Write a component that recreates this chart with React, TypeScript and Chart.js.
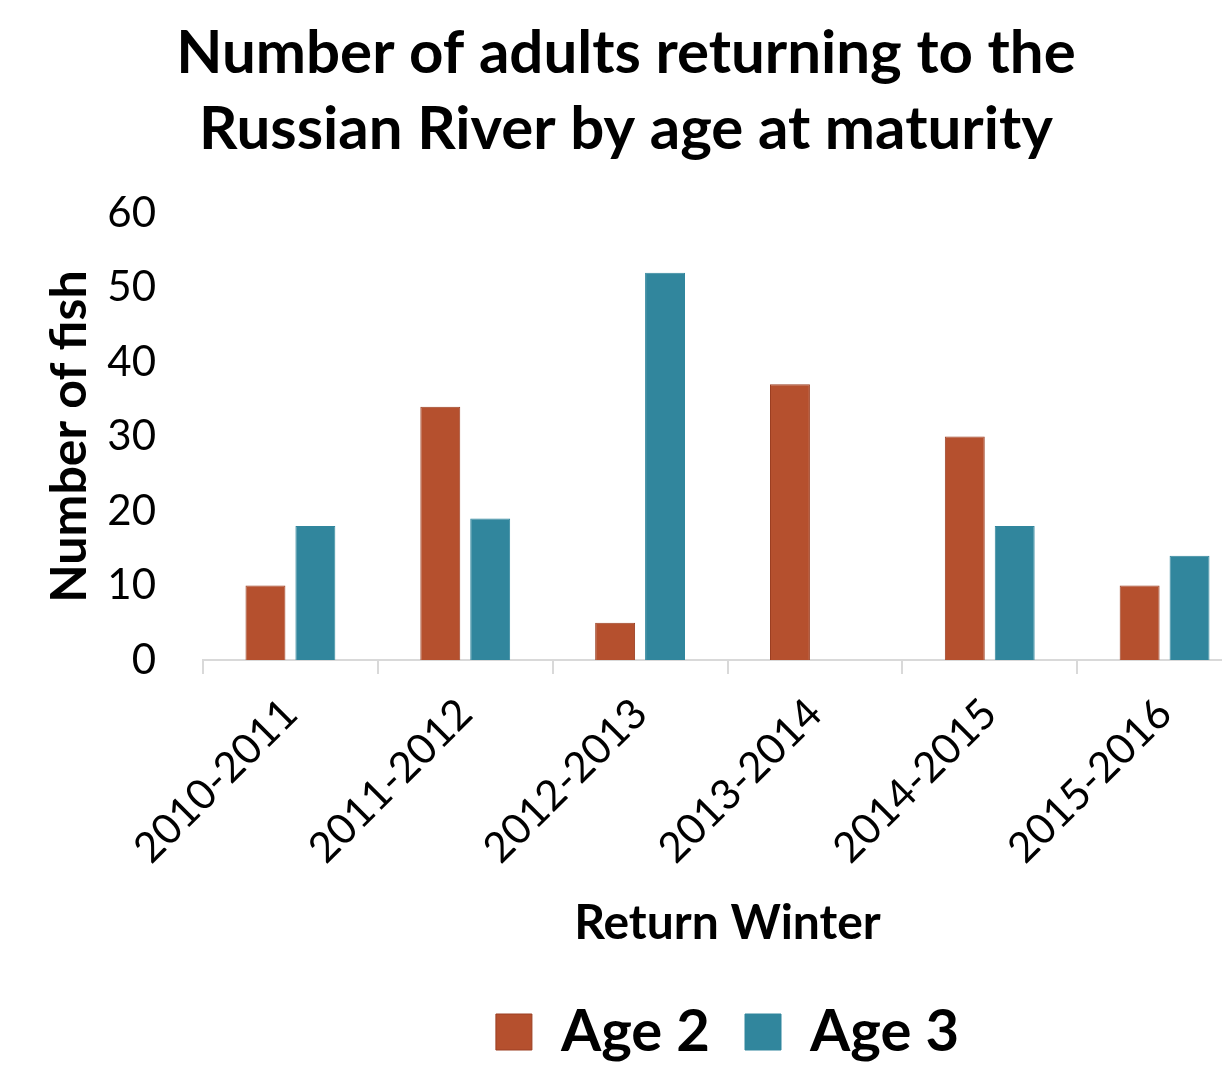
import React, { useEffect, useRef } from "react";
import { Chart, registerables } from "chart.js";

Chart.register(...registerables);

const categories = ["2010-2011", "2011-2012", "2012-2013", "2013-2014", "2014-2015", "2015-2016"];
const age2 = [10, 34, 5, 37, 30, 10];
const age3 = [18, 19, 52, 0, 18, 14];
const titleLines = ["Number of adults returning to the", "Russian River by age at maturity"];

const FONT = "Lato";
const CW = 1282;
const CH = 1074;

export default function App() {
  const ref = useRef<HTMLCanvasElement | null>(null);
  useEffect(() => {
    if (!ref.current) return;
    const chart = new Chart(ref.current, {
      type: "bar",
      data: {
        labels: categories,
        datasets: [
          {
            label: "Age 2",
            data: age2,
            backgroundColor: "#B5502E",
            borderColor: "#9C3F22",
            borderWidth: 1,
            categoryPercentage: 0.571,
            barPercentage: 0.8,
          },
          {
            label: "Age 3",
            data: age3,
            backgroundColor: "#31869D",
            borderColor: "#31869D",
            borderWidth: 1,
            categoryPercentage: 0.571,
            barPercentage: 0.8,
          },
        ],
      },
      options: {
        responsive: false,
        animation: false,
        layout: { padding: { top: 0, left: 0, right: 30, bottom: 3 } },
        plugins: {
          tooltip: { enabled: false },
          title: {
            display: true,
            text: titleLines,
            color: "#000",
            font: { family: FONT, size: 60, weight: "bold", lineHeight: 1.267 },
            padding: { top: 16, bottom: 45 },
          },
          legend: {
            display: true,
            position: "bottom",
            fullSize: false,
            labels: {
              color: "#000",
              font: { family: FONT, size: 58, weight: "bold" },
              boxWidth: 36,
              boxHeight: 36,
              padding: 35,
            },
          },
        },
        scales: {
          x: {
            afterFit: (s: any) => {
              s.height = 308;
            },
            grid: {
              display: true,
              offset: true,
              drawOnChartArea: false,
              drawTicks: true,
              tickLength: 14,
              color: "#D9D9D9",
              lineWidth: 2,
            },
            border: { display: true, color: "#D9D9D9", width: 2 },
            ticks: {
              color: "#000",
              font: { family: FONT, size: 42 },
              maxRotation: 45,
              minRotation: 45,
              padding: 15,
            },
            title: {
              display: true,
              text: "Return Winter",
              color: "#000",
              font: { family: FONT, size: 48, weight: "bold" },
              padding: { top: 0, bottom: 16 },
            },
          },
          y: {
            min: 0,
            max: 60,
            afterFit: (s: any) => {
              s.width = 203;
            },
            grid: { display: false, drawTicks: false },
            border: { display: false },
            ticks: {
              stepSize: 10,
              color: "#000",
              font: { family: FONT, size: 42 },
              padding: 47,
            },
            title: {
              display: true,
              text: "Number of fish",
              color: "#000",
              font: { family: FONT, size: 50, weight: "bold" },
              padding: { top: 40, bottom: 0 },
            },
          },
        },
      },
    });
    return () => chart.destroy();
  }, []);
  return (
    <div style={{ position: "absolute", top: 0, left: 0, width: 1222, height: 1074, overflow: "hidden", background: "#fff" }}>
      <canvas ref={ref} width={CW} height={CH} style={{ width: CW, height: CH, display: "block" }} />
    </div>
  );
}
